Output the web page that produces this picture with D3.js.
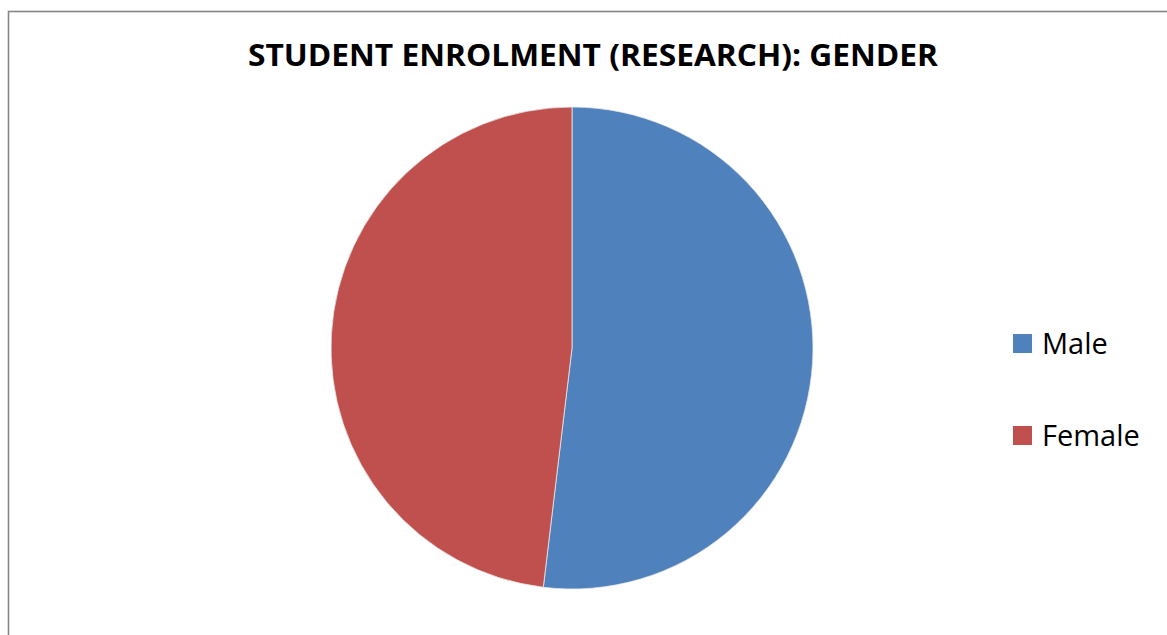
<!DOCTYPE html>
<html>
<head>
<meta charset="utf-8">
<script src="https://cdn.jsdelivr.net/npm/d3@7"></script>
<style>
body { margin: 0; background: #fff; }
svg { display: block; }
</style>
</head>
<body>
<div id="chart"></div>
<script>
var categories = ['Male', 'Female']
var values = [51.9, 48.1]
var colors = ['#4F81BD', '#C0504D']
var title = 'STUDENT ENROLMENT (RESEARCH): GENDER'

function drawPie() {
	var svg = d3.select('#chart').append('svg').attr('width', 1167).attr('height', 635)

	// chart frame, runs off the right and bottom
	svg.append('rect').attr('x', 8.5).attr('y', 11.5).attr('width', 1200).attr('height', 700)
		.attr('fill', 'none').attr('stroke', '#868686').attr('stroke-width', 1.6)

	svg.append('text')
		.attr('x', 248).attr('y', 66)
		.attr('font-family', 'Open Sans').attr('font-weight', 'bold').attr('font-size', 31)
		.attr('textLength', 690).attr('lengthAdjust', 'spacingAndGlyphs')
		.attr('fill', '#000')
		.text(title)

	var data = categories.map(function(c, i){ return {name: c, value: values[i]} })
	var color = d3.scaleOrdinal().domain(categories).range(colors)
	var pie = d3.pie().sort(null).value(function(d){ return d.value })
	var arc = d3.arc().innerRadius(0).outerRadius(241)

	var g = svg.append('g').attr('transform', 'translate(572, 348)')
	g.selectAll('path').data(pie(data)).enter()
		.append('path')
		.attr('d', arc)
		.attr('fill', function(d){ return color(d.data.name) })
		.attr('stroke', '#e8e8e8')
		.attr('stroke-width', 0.8)

	var legend = svg.selectAll('.leg').data(categories).enter()
		.append('g').attr('class', 'leg')
		.attr('transform', function(d, i){ return 'translate(1013, ' + (334 + i * 92) + ')' })

	legend.append('rect').attr('width', 19).attr('height', 19)
		.attr('fill', function(d){ return color(d) })

	legend.append('text')
		.attr('x', 29).attr('y', 20)
		.attr('font-family', 'Open Sans').attr('font-size', 29)
		.attr('fill', '#000')
		.text(function(d){ return d })
}

drawPie()
</script>
</body>
</html>
